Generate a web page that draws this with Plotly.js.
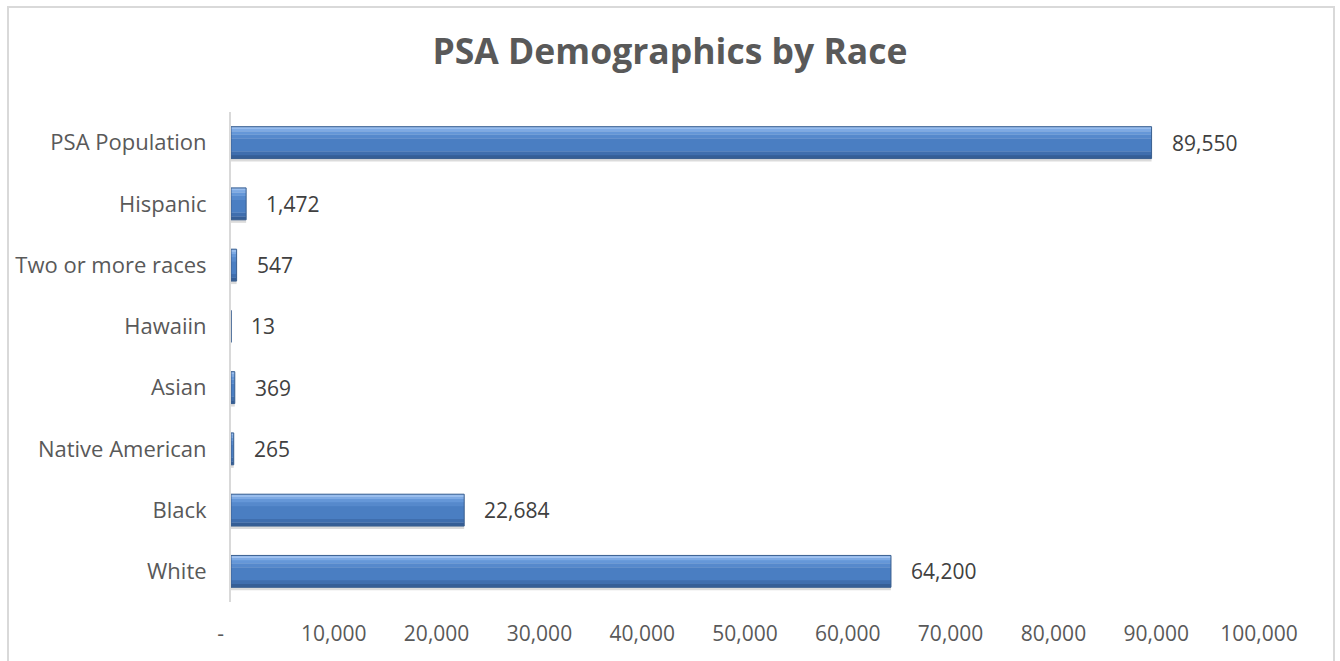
<!DOCTYPE html>
<html>
<head>
<meta charset="utf-8">
<script src="https://cdn.plot.ly/plotly-3.0.1.min.js"></script>
<style>
  html, body { margin: 0; padding: 0; background: #ffffff; }
  #wrap { position: relative; width: 1340px; height: 661px; overflow: hidden; }
  #chart { position: absolute; left: 0; top: 0; width: 1340px; height: 661px; }
  #frame { position: absolute; left: 7px; top: 6px; width: 1324px; height: 700px;
           border: 2px solid #d9d9d9; pointer-events: none; }
</style>
</head>
<body>
<div id="wrap">
  <div id="chart"></div>
  <div id="frame"></div>
</div>
<script>
// Categories listed bottom-to-top
const categories = ['White', 'Black', 'Native American', 'Asian', 'Hawaiin',
                    'Two or more races', 'Hispanic', 'PSA Population'];
const population = [64200, 22684, 265, 369, 13, 547, 1472, 89550];
const tickValues = [0, 10000, 20000, 30000, 40000, 50000, 60000, 70000, 80000, 90000, 100000];
const tickLabels = ['-\u2002\u2002', '10,000', '20,000', '30,000', '40,000', '50,000',
                    '60,000', '70,000', '80,000', '90,000', '100,000'];

const FONT = '"Open Sans", sans-serif';
const BW = 0.52;

// gradient bands (style only): [from, to] as fraction of bar thickness measured from the bottom
const bands = [
  [0.00, 0.10, '#355e96'],
  [0.10, 0.22, '#3f6eae'],
  [0.22, 0.62, '#4a7ec2'],
  [0.62, 0.75, '#5689cc'],
  [0.75, 0.85, '#6597d8'],
  [0.85, 0.93, '#7eaae4'],
  [0.93, 1.00, '#98bdee']
];

const traces = [{ // shadow
  type: 'bar', orientation: 'h', y: categories, x: population,
  width: BW, offset: -BW / 2 - 0.05,
  marker: { color: 'rgba(0,0,0,0.14)', line: { width: 0 } },
  hoverinfo: 'skip', showlegend: false
}];
bands.forEach(b => {
  traces.push({
    type: 'bar', orientation: 'h', y: categories, x: population,
    width: (b[1] - b[0]) * BW + 0.004, offset: -BW / 2 + b[0] * BW,
    marker: { color: b[2], line: { width: 0 } },
    hoverinfo: 'skip', showlegend: false
  });
});
traces.push({ // outline
  type: 'bar', orientation: 'h', y: categories, x: population,
  width: BW, offset: -BW / 2,
  marker: { color: 'rgba(0,0,0,0)', line: { color: '#3a5f8f', width: 1 } },
  showlegend: false
});

const annotations = categories.map((c, i) => ({
  x: population[i], y: c, xref: 'x', yref: 'y',
  text: population[i].toLocaleString('en-US'),
  showarrow: false, xanchor: 'left', xshift: 18,
  font: { family: FONT, size: 21, color: '#404040' }
}));

const layout = {
  width: 1340, height: 661,
  margin: { l: 231, r: 81, t: 112, b: 59 },
  paper_bgcolor: '#ffffff', plot_bgcolor: '#ffffff',
  barmode: 'overlay',
  title: {
    text: '<b>PSA Demographics by Race</b>',
    x: 0.5, xanchor: 'center', y: 1 - 52 / 661, yanchor: 'middle',
    font: { family: FONT, size: 35.5, color: '#595959' }
  },
  xaxis: {
    range: [0, 100000], tickvals: tickValues, ticktext: tickLabels,
    showgrid: false, zeroline: false, showline: false,
    ticks: 'outside', ticklen: 13, tickcolor: 'rgba(0,0,0,0)',
    tickfont: { family: FONT, size: 21, color: '#595959' },
    fixedrange: true
  },
  yaxis: {
    type: 'category', categoryorder: 'array', categoryarray: categories,
    showgrid: false, zeroline: false,
    showline: true, linecolor: '#d9d9d9', linewidth: 2,
    ticks: 'outside', ticklen: 18, tickcolor: 'rgba(0,0,0,0)',
    tickfont: { family: FONT, size: 22, color: '#595959' },
    fixedrange: true
  },
  annotations: annotations,
  showlegend: false
};

Plotly.newPlot('chart', traces, layout, { displayModeBar: false, staticPlot: true });
</script>
</body>
</html>
